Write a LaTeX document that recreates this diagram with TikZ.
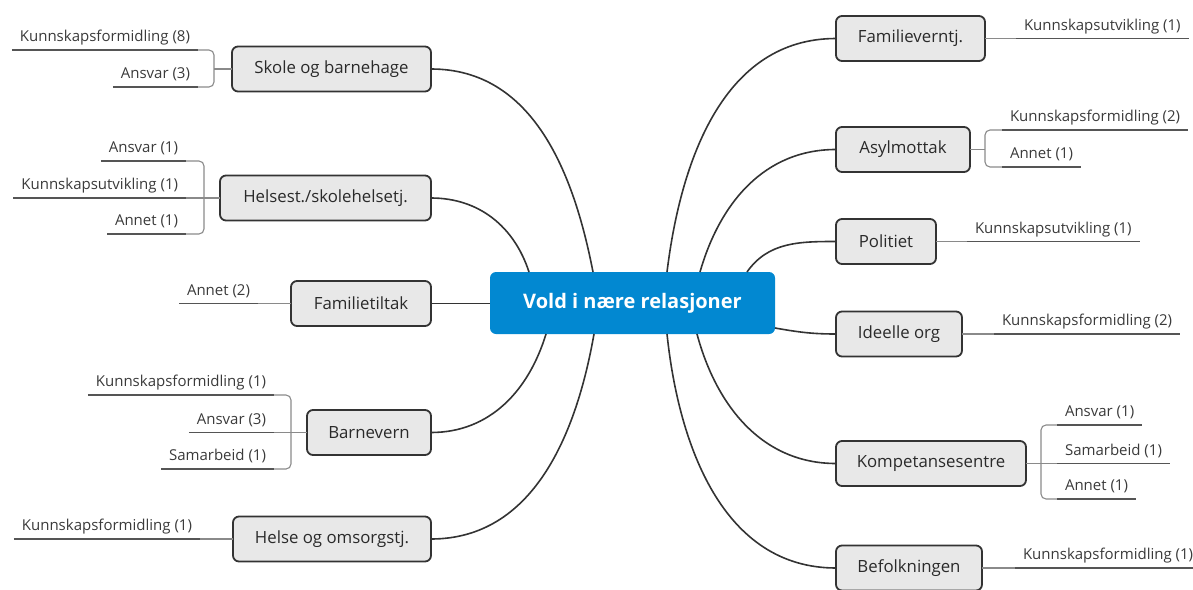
\documentclass[tikz,border=0pt]{standalone}
\usepackage{fontspec}
\setmainfont{Open Sans}
\usetikzlibrary{calc}
\definecolor{hub}{HTML}{0288D1}
\definecolor{boxfill}{HTML}{E8E8E8}
\definecolor{boxline}{HTML}{333333}
\definecolor{boxtext}{HTML}{2A2A2A}
\definecolor{leaftext}{HTML}{3A3A3A}
\definecolor{leafdark}{HTML}{555555}
\definecolor{leaflight}{HTML}{8A8A8A}
\tikzset{
  hubnode/.style={fill=hub, rounded corners=6pt, minimum width=285pt, minimum height=62pt,
    text=white, font=\fontsize{20}{24}\selectfont\bfseries, inner sep=0pt, outer sep=0pt},
  branch/.style={draw=boxline, line width=1.8pt, fill=boxfill, rounded corners=6pt,
    minimum height=45pt, inner sep=0pt, outer sep=0pt, text=boxtext,
    font=\fontsize{16.8}{20}\selectfont},
  leaf/.style={inner xsep=8pt, inner ysep=8.5pt, text height=10pt, text depth=0pt,
    outer sep=0pt, text=leaftext, font=\fontsize{15}{18}\selectfont},
  leafL/.style={leaf, anchor=south east},
  leafR/.style={leaf, anchor=south west},
  link/.style={draw=boxline, line width=1.6pt},
  twig/.style={draw=leaflight, line width=1.1pt, rounded corners=5pt},
  under/.style={draw=leafdark, line width=1.2pt},
}
\begin{document}
\begin{tikzpicture}[x=1pt, y=-1pt]
\useasboundingbox (0,0) rectangle (1193,589);

% hub
\node[hubnode] (hub) at (632.5,303) {Vold i nære relasjoner};

% left branches
\node[branch, minimum width=199pt] (sk) at (331.5,69) {Skole og barnehage};
\node[branch, minimum width=211pt] (hs) at (325.5,198) {Helsest./skolehelsetj.};
\node[branch, minimum width=140pt] (ft) at (361,303.5) {Familietiltak};
\node[branch, minimum width=124pt] (bv) at (369,432.5) {Barnevern};
\node[branch, minimum width=198pt] (ho) at (332,539) {Helse og omsorgstj.};

% right branches
\node[branch, minimum width=149pt] (fv) at (910.5,38.5) {Familieverntj.};
\node[branch, minimum width=134pt] (as) at (903,149.5) {Asylmottak};
\node[branch, minimum width=100pt] (po) at (886,241.5) {Politiet};
\node[branch, minimum width=126pt] (io) at (899,334) {Ideelle org};
\node[branch, minimum width=190pt] (ko) at (931,463.5) {Kompetansesentre};
\node[branch, minimum width=146pt] (bf) at (909,568) {Befolkningen};

% hub connectors
\draw[link] (sk.east) to[out=0,in=101] ([xshift=103pt]hub.north west);
\draw[link] (hs.east) to[out=0,in=108] ([xshift=39pt]hub.north west);
\draw[link] (ft.east) -- (ft.east -| hub.west);
\draw[link] (bv.east) to[out=0,in=253] ([xshift=56pt]hub.south west);
\draw[link] (ho.east) to[out=0,in=260] ([xshift=104pt]hub.south west);
\draw[link] (fv.west) to[out=180,in=83] ([xshift=177pt]hub.north west);
\draw[link] (as.west) to[out=180,in=74] ([xshift=210pt]hub.north west);
\draw[link] (po.west) to[out=180,in=55] ([xshift=257pt]hub.north west);
\draw[link] (io.west) to[out=180,in=350] ([yshift=-25pt]hub.east);
\draw[link] (ko.west) to[out=180,in=285] ([xshift=207pt]hub.south west);
\draw[link] (bf.west) to[out=180,in=276] ([xshift=177pt]hub.south west);

% left leaves
\node[leafL] (sk1) at (198,50) {Kunnskapsformidling (8)};
\node[leafL] (sk2) at (198,87) {Ansvar (3)};
\node[leafL] (hs1) at (186,161) {Ansvar (1)};
\node[leafL] (hs2) at (186,198) {Kunnskapsutvikling (1)};
\node[leafL] (hs3) at (186,234) {Annet (1)};
\node[leafL] (ft1) at (258,303.5) {Annet (2)};
\node[leafL] (bv1) at (274,395) {Kunnskapsformidling (1)};
\node[leafL] (bv2) at (274,432.5) {Ansvar (3)};
\node[leafL] (bv3) at (274,469) {Samarbeid (1)};
\node[leafL] (ho1) at (200,539) {Kunnskapsformidling (1)};

% right leaves
\node[leafR] (fv1) at (1016,38.5) {Kunnskapsutvikling (1)};
\node[leafR] (as1) at (1002,130) {Kunnskapsformidling (2)};
\node[leafR] (as2) at (1002,167) {Annet (1)};
\node[leafR] (po1) at (967,241.5) {Kunnskapsutvikling (1)};
\node[leafR] (io1) at (994,334) {Kunnskapsformidling (2)};
\node[leafR] (ko1) at (1057,425) {Ansvar (1)};
\node[leafR] (ko2) at (1057,463.5) {Samarbeid (1)};
\node[leafR] (ko3) at (1057,499) {Annet (1)};
\node[leafR] (bf1) at (1015,568) {Kunnskapsformidling (1)};

% bracket points
\coordinate (skb) at ([xshift=-18pt]sk.west);
\coordinate (hsb) at ([xshift=-16pt]hs.west);
\coordinate (bvb) at ([xshift=-16pt]bv.west);
\coordinate (asb) at ([xshift=15pt]as.east);
\coordinate (kob) at ([xshift=15pt]ko.east);

% twigs: left
\draw[twig] (sk.west) -- (skb);
\draw[twig] (sk1.south east) -- (sk1.south east -| skb) -- (sk2.south east -| skb) -- (sk2.south east);
\draw[twig] (hs.west) -- (hs2.south east);
\draw[twig] (hs1.south east) -- (hs1.south east -| hsb) -- (hs3.south east -| hsb) -- (hs3.south east);
\draw[twig] (ft.west) -- (ft1.south east);
\draw[twig] (bv.west) -- (bv2.south east);
\draw[twig] (bv1.south east) -- (bv1.south east -| bvb) -- (bv3.south east -| bvb) -- (bv3.south east);
\draw[twig] (ho.west) -- (ho1.south east);

% twigs: right
\draw[twig] (fv.east) -- (fv1.south west);
\draw[twig] (as.east) -- (asb);
\draw[twig] (as1.south west) -- (as1.south west -| asb) -- (as2.south west -| asb) -- (as2.south west);
\draw[twig] (po.east) -- (po1.south west);
\draw[twig] (io.east) -- (io1.south west);
\draw[twig] (ko.east) -- (ko2.south west);
\draw[twig] (ko1.south west) -- (ko1.south west -| kob) -- (ko3.south west -| kob) -- (ko3.south west);
\draw[twig] (bf.east) -- (bf1.south west);

% underlines
\foreach \n in {sk1,sk2,hs1,hs2,hs3,ft1,bv1,bv2,bv3,ho1,fv1,as1,as2,po1,io1,ko1,ko2,ko3,bf1}
  \draw[under] (\n.south west) -- (\n.south east);
\end{tikzpicture}
\end{document}
